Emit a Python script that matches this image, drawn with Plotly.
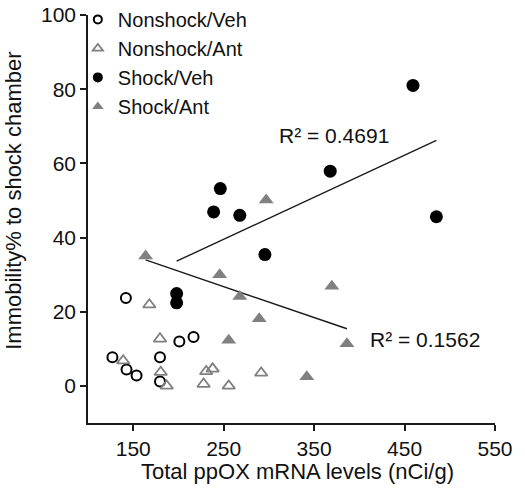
import numpy as np
import plotly.graph_objects as go

# ppOX mRNA (nCi/g) vs. immobility (%) per group
nonshock_veh_x = [141.9, 127.0, 142.6, 153.7, 179.6, 179.6, 201.0, 216.7]
nonshock_veh_y = [23.7, 7.7, 4.4, 2.8, 7.7, 1.2, 12.0, 13.2]

nonshock_ant_x = [167.8, 138.9, 179.6, 180.4, 187.0, 227.8, 230.7, 237.8, 255.6, 291.5]
nonshock_ant_y = [21.9, 6.8, 12.7, 3.7, 0.0, 0.5, 3.9, 4.6, 0.0, 3.5]

shock_veh_x = [198.0, 198.0, 238.9, 246.3, 267.8, 295.6, 367.8, 459.3, 485.2]
shock_veh_y = [24.9, 22.4, 46.9, 53.2, 46.0, 35.4, 57.9, 81.0, 45.6]

shock_ant_x = [163.7, 245.6, 267.8, 255.6, 289.3, 297.0, 369.6, 341.9, 386.3]
shock_ant_y = [35.0, 30.0, 24.1, 12.3, 18.1, 50.1, 26.9, 2.5, 11.4]

r2_labels = ["R² = 0.4691", "R² = 0.1562"]
x_ticks = [150, 250, 350, 450, 550]
y_ticks = [0, 20, 40, 60, 80, 100]
x_title = "Total ppOX mRNA levels (nCi/g)"
y_title = "Immobility% to shock chamber"

FONT = "Liberation Sans, Arial, sans-serif"
GRAY = "#808080"
INK = "#111111"

groups = [
    ("Nonshock/Veh", nonshock_veh_x, nonshock_veh_y,
     dict(symbol="circle-open", size=10, color="black", line=dict(width=2, color="black")), 8),
    ("Nonshock/Ant", nonshock_ant_x, nonshock_ant_y,
     dict(symbol="triangle-up-open", size=11, color=GRAY, line=dict(width=1.8, color=GRAY)), 9),
    ("Shock/Veh", shock_veh_x, shock_veh_y,
     dict(symbol="circle", size=13, color="black"), 10),
    ("Shock/Ant", shock_ant_x, shock_ant_y,
     dict(symbol="triangle-up", size=13, color=GRAY), 10),
]

fig = go.Figure()

# linear fits for the two shock groups
for xs, ys in [(shock_veh_x, shock_veh_y), (shock_ant_x, shock_ant_y)]:
    xs_a = np.array(xs)
    slope, intercept = np.polyfit(xs_a, np.array(ys), 1)
    x_fit = np.array([xs_a.min(), xs_a.max()])
    fig.add_trace(go.Scatter(
        x=x_fit, y=slope * x_fit + intercept, mode="lines",
        line=dict(color="#1a1a1a", width=1.4), showlegend=False, hoverinfo="skip",
    ))

for name, xs, ys, marker, legend_size in groups:
    fig.add_trace(go.Scatter(
        x=xs, y=ys, mode="markers", name=name, marker=marker,
        legendgroup=name, showlegend=False,
    ))
    # smaller symbol for the legend entry
    lm = dict(marker)
    lm["size"] = legend_size
    fig.add_trace(go.Scatter(
        x=[None], y=[None], mode="markers", name=name, marker=lm,
        legendgroup=name, showlegend=True,
    ))

fig.add_annotation(x=309, y=67.5, text=r2_labels[0], showarrow=False,
                   xanchor="left", yanchor="middle", font=dict(size=21))
fig.add_annotation(x=410, y=12.5, text=r2_labels[1], showarrow=False,
                   xanchor="left", yanchor="middle", font=dict(size=21))

# axis titles
fig.add_annotation(xref="paper", yref="paper", x=0.515, y=-0.12, text=x_title,
                   showarrow=False, xanchor="center", yanchor="middle", font=dict(size=22))
fig.add_annotation(xref="paper", yref="paper", x=-0.185, y=0.544, text=y_title,
                   textangle=-90, showarrow=False, xanchor="center", yanchor="middle",
                   font=dict(size=22))

axis_common = dict(
    showgrid=False, zeroline=False, showline=True, linecolor="#1a1a1a", linewidth=1.6,
    ticks="outside", ticklen=6, tickwidth=1.6, tickcolor="#1a1a1a",
    tickfont=dict(size=21, color=INK),
)

fig.update_xaxes(range=[100, 550], tickvals=x_ticks, **axis_common)
fig.update_yaxes(range=[-10, 100], tickvals=y_ticks, **axis_common)

fig.update_layout(
    width=525, height=494,
    margin=dict(l=88, r=30, t=15, b=71, autoexpand=False),
    paper_bgcolor="white", plot_bgcolor="white",
    font=dict(family=FONT, color=INK),
    showlegend=True,
    legend=dict(x=-0.025, y=1.037, xanchor="left", yanchor="top",
                font=dict(size=20), bgcolor="rgba(0,0,0,0)",
                tracegroupgap=0, itemwidth=30),
)

fig.write_html("out.html")
